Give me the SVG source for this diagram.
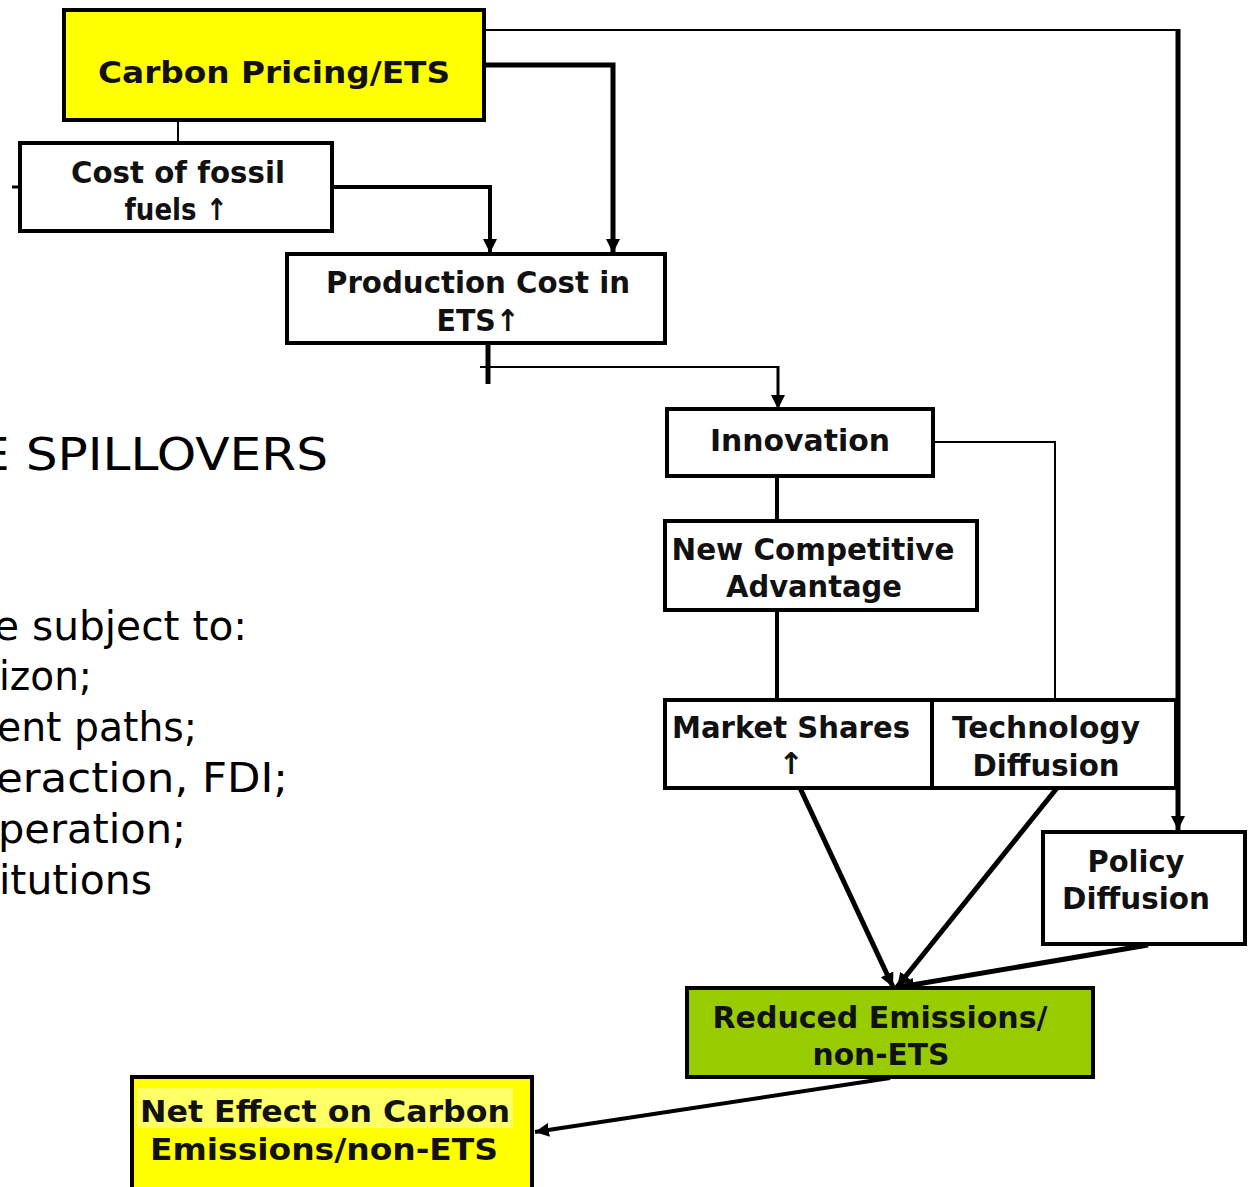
<svg xmlns="http://www.w3.org/2000/svg" width="1250" height="1187" viewBox="0 0 1250 1187">
<defs>
<marker id="ah" markerUnits="userSpaceOnUse" markerWidth="16" markerHeight="14" refX="14" refY="7" orient="auto">
<path d="M0,0 L14,7 L0,14 z" fill="#000"/>
</marker>
<style>
.box{stroke:#000;stroke-width:4;fill:#fff}
.yel{fill:#ffff00}
.grn{fill:#99cc00}
.t{font-family:"DejaVu Sans","Verdana",sans-serif;font-weight:bold;font-size:30px;fill:#111;text-anchor:middle}
.side{font-family:"DejaVu Sans","Verdana",sans-serif;font-size:40px;fill:#000}
.c{fill:none;stroke:#000;stroke-linecap:butt;stroke-linejoin:miter}
</style>
</defs>
<rect width="1250" height="1187" fill="#fff"/>

<g id="side-text">
<text class="side" x="-22" y="470" style="font-size:44px" textLength="350" lengthAdjust="spacingAndGlyphs">E SPILLOVERS</text>
<text class="side" x="-6" y="640" textLength="253" lengthAdjust="spacingAndGlyphs">e subject to:</text>
<text class="side" x="-1" y="690" textLength="93" lengthAdjust="spacingAndGlyphs">izon;</text>
<text class="side" x="-3" y="741" textLength="200" lengthAdjust="spacingAndGlyphs">ent paths;</text>
<text class="side" x="-4" y="792" textLength="292" lengthAdjust="spacingAndGlyphs">eraction, FDI;</text>
<text class="side" x="-2" y="843" textLength="188" lengthAdjust="spacingAndGlyphs">peration;</text>
<text class="side" x="-1" y="894" textLength="153" lengthAdjust="spacingAndGlyphs">itutions</text>
</g>

<g id="connectors">
<path class="c" d="M484,30 H1180" stroke-width="2"/>
<path class="c" d="M1178,29 V830" stroke-width="5" marker-end="url(#ah)"/>
<path class="c" d="M484,65 H613 V253" stroke-width="5" marker-end="url(#ah)"/>
<path class="c" d="M178,120 V143" stroke-width="2"/>
<path class="c" d="M332,187 H490 V253" stroke-width="4" marker-end="url(#ah)"/>
<path class="c" d="M12,187 H20" stroke-width="3"/>
<path class="c" d="M488,343 V384" stroke-width="5"/>
<path class="c" d="M480,367 H778" stroke-width="2"/>
<path class="c" d="M778,366 V409" stroke-width="3" marker-end="url(#ah)"/>
<path class="c" d="M933,442 H1055 V700" stroke-width="2"/>
<path class="c" d="M777,476 V521" stroke-width="4"/>
<path class="c" d="M777,610 V700" stroke-width="4"/>
<path class="c" d="M800,788 L893,987" stroke-width="5" marker-end="url(#ah)"/>
<path class="c" d="M1057,788 L897,987" stroke-width="5" marker-end="url(#ah)"/>
<path class="c" d="M1148,945 L900,987" stroke-width="5" marker-end="url(#ah)"/>
<path class="c" d="M890,1078 L535,1132" stroke-width="4" marker-end="url(#ah)"/>
</g>

<g id="carbon-pricing">
<rect class="box yel" x="64" y="10" width="420" height="110"/>
<text class="t" x="274" y="83" textLength="352" lengthAdjust="spacingAndGlyphs">Carbon Pricing/ETS</text>
</g>

<g id="cost-fossil">
<rect class="box" x="20" y="143" width="312" height="88"/>
<text class="t" x="178" y="183" textLength="214" lengthAdjust="spacingAndGlyphs">Cost of fossil</text>
<text class="t" x="176" y="220" textLength="103" lengthAdjust="spacingAndGlyphs">fuels ↑</text>
</g>

<g id="production-cost">
<rect class="box" x="287" y="254" width="378" height="89"/>
<text class="t" x="478" y="293" textLength="304" lengthAdjust="spacingAndGlyphs">Production Cost in</text>
<text class="t" x="478" y="331" textLength="83" lengthAdjust="spacingAndGlyphs">ETS↑</text>
</g>

<g id="innovation">
<rect class="box" x="667" y="409" width="266" height="67"/>
<text class="t" x="800" y="451" textLength="180" lengthAdjust="spacingAndGlyphs">Innovation</text>
</g>

<g id="new-competitive">
<rect class="box" x="665" y="521" width="312" height="89"/>
<text class="t" x="813" y="560" textLength="283" lengthAdjust="spacingAndGlyphs">New Competitive</text>
<text class="t" x="814" y="597" textLength="176" lengthAdjust="spacingAndGlyphs">Advantage</text>
</g>

<g id="market-shares">
<rect class="box" x="665" y="700" width="267" height="88"/>
<text class="t" x="791" y="738" textLength="238" lengthAdjust="spacingAndGlyphs">Market Shares</text>
<text class="t" x="791" y="774">↑</text>
</g>

<g id="technology-diffusion">
<rect class="box" x="932" y="700" width="244" height="88"/>
<text class="t" x="1046" y="738" textLength="188" lengthAdjust="spacingAndGlyphs">Technology</text>
<text class="t" x="1046" y="776" textLength="147" lengthAdjust="spacingAndGlyphs">Diffusion</text>
</g>

<g id="policy-diffusion">
<rect class="box" x="1043" y="832" width="202" height="112"/>
<text class="t" x="1136" y="872" textLength="97" lengthAdjust="spacingAndGlyphs">Policy</text>
<text class="t" x="1136" y="909" textLength="148" lengthAdjust="spacingAndGlyphs">Diffusion</text>
</g>

<g id="reduced-emissions">
<rect class="box grn" x="687" y="988" width="406" height="89"/>
<text class="t" x="880" y="1028" textLength="335" lengthAdjust="spacingAndGlyphs">Reduced Emissions/</text>
<text class="t" x="881" y="1065" textLength="137" lengthAdjust="spacingAndGlyphs">non-ETS</text>
</g>

<g id="net-effect">
<rect class="box yel" x="132" y="1077" width="400" height="120"/>
<rect x="137" y="1088" width="376" height="40" fill="#ffff66"/>
<text class="t" x="325" y="1122" textLength="370" lengthAdjust="spacingAndGlyphs">Net Effect on Carbon</text>
<text class="t" x="324" y="1160" textLength="348" lengthAdjust="spacingAndGlyphs">Emissions/non-ETS</text>
</g>
</svg>
